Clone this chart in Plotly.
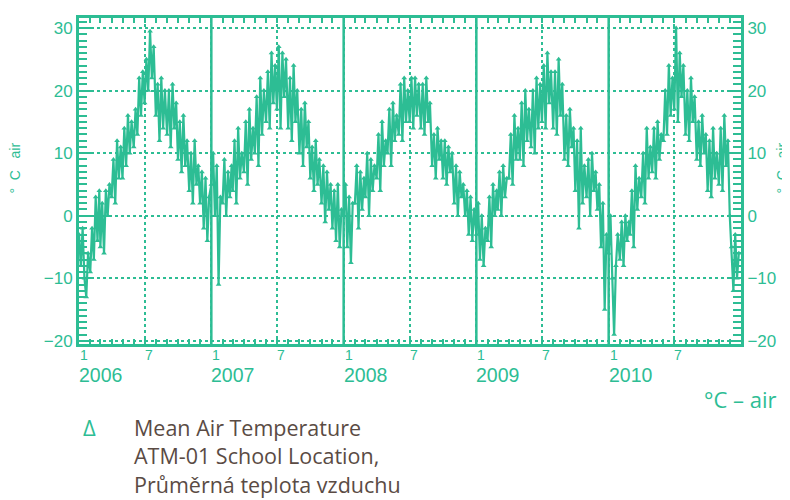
import plotly.graph_objects as go

TEAL = "#2dbd94"
TEXT = "#5a4b44"

years = [2006, 2007, 2008, 2009, 2010]
months = list(range(1, 13))
days = [1, 6, 11, 16, 21, 26]

t2006 = [-3, -8, -2, -10, -13, -6, -9, -2, -7, 3, -4, 4, -5, 2, -6, 4, 0, 5,
         3, 9, 2, 12, 6, 11, 6, 14, 8, 16, 10, 15, 11, 17, 13, 22, 16, 23,
         18, 25, 20, 29.5, 22, 27, 16, 21, 12, 22, 14, 20, 13, 20, 11, 21, 14, 18,
         9, 15, 7, 16, 8, 12, 4, 10, 2, 12, 5, 8, 2, 7, -2, 6, -4, 3]
t2007 = [5, 10, 0, 8, -11, 3, 2, 9, 0, 7, 3, 8, 4, 12, 2, 14, 6, 10,
         7, 15, 5, 17, 9, 14, 10, 19, 8, 22, 13, 20, 15, 23, 14, 26, 18, 24,
         17, 27, 14, 26, 19, 25, 14, 22, 12, 24, 15, 20, 10, 17, 8, 18, 11, 15,
         6, 11, 4, 12, 5, 9, 2, 8, -1, 7, 1, 5, -2, 4, -4, 5, -5, 1]
t2008 = [0, 5, -5, 3, -7.5, 2, 2, 8, -2, 7, 1, 6, 3, 10, 0, 9, 4, 8,
         6, 13, 4, 15, 8, 12, 10, 17, 8, 18, 12, 16, 13, 21, 12, 22, 15, 20,
         15, 22, 14, 22, 16, 21, 14, 21, 13, 22, 15, 18, 8, 13, 6, 14, 9, 12,
         6, 12, 5, 11, 7, 10, 2, 8, 0, 7, 3, 5, 0, 4, -3, 3, -4, 1]
t2009 = [-3, 2, -7, 0, -8, -2, -4, 3, -5, 5, 0, 4, 1, 7, 0, 8, 3, 6,
         6, 13, 5, 16, 9, 14, 9, 18, 8, 20, 12, 17, 11, 20, 10, 22, 14, 21,
         15, 24, 14, 26, 18, 23, 14, 23, 13, 25, 16, 21, 9, 16, 8, 17, 11, 14,
         4, 12, -2, 14, 2, 8, 3, 9, 0, 10, 4, 7, 1, 5, -5, 2, -15, -3]
t2010 = [-6, 0, -10, -19, -8, -3, -7, -1, -8, 0, -4, -1, -3, 4, -5, 8, 1, 6,
         3, 10, 2, 14, 6, 11, 7, 14, 6, 15, 9, 13, 12, 20, 13, 24, 16, 22,
         17, 30, 15, 26, 19, 24, 13, 20, 12, 22, 15, 19, 9, 15, 8, 16, 10, 13,
         4, 12, 3, 14, 6, 10, 5, 14, 4, 16, 8, 12, 0, -5, -12, -3, -10, -6]

temps = t2006 + t2007 + t2008 + t2009 + t2010
dates = [f"{y}-{m:02d}-{d:02d}" for y in years for m in months for d in days]

y_ticks = [-20, -10, 0, 10, 20, 30]
year_starts = [f"{y}-01-01" for y in years]
july_ticks = [f"{y}-07-01" for y in years]
year_labels = [str(y) for y in years]
y_range = [-20.5, 31.6]
x_range = ["2006-01-01", "2011-01-01"]

# screen geometry of the plot box (page has an 8px body margin)
OFF = 8
PL, PR, PT, PB = 79, 741, 15, 344
PW, PH = PR - PL, PB - PT


def px(x):
    return (x - PL) / PW


def py(y):
    return (PB - y) / PH


fig = go.Figure()
fig.add_trace(go.Scatter(
    x=dates, y=temps, mode="lines+markers",
    line=dict(color=TEAL, width=2.2),
    marker=dict(symbol="triangle-up", size=5, color=TEAL),
    showlegend=False, hoverinfo="skip"))
fig.add_trace(go.Scatter(x=[None], y=[None], yaxis="y2", showlegend=False))

lib = "Liberation Sans, Arial, sans-serif"
axis_font = dict(family=lib, size=17, color=TEAL)
yaxis_common = dict(
    range=y_range, tickmode="array", tickvals=y_ticks,
    ticks="inside", ticklen=13, tickwidth=2, tickcolor=TEAL,
    minor=dict(tickmode="linear", dtick=1, tick0=0, ticks="inside",
               ticklen=8, tickwidth=2, tickcolor=TEAL, showgrid=False),
    tickfont=axis_font, showline=True, linecolor=TEAL, linewidth=3,
    zeroline=False, fixedrange=True,
)
W, H = 790 - OFF, 500 - OFF
fig.update_layout(
    width=W, height=H, plot_bgcolor="white", paper_bgcolor="white",
    margin=dict(l=PL - OFF, r=W - (PR - OFF), t=PT - OFF, b=H - (PB - OFF)),
    xaxis=dict(
        type="date", range=x_range, tickmode="array",
        tickvals=year_starts + july_ticks, showticklabels=False,
        ticks="inside", ticklen=5, tickwidth=2, tickcolor=TEAL,
        minor=dict(tickmode="linear", dtick="M1", tick0="2006-01-01",
                   ticks="inside", ticklen=5, tickwidth=2, tickcolor=TEAL,
                   showgrid=False),
        showgrid=True, gridcolor=TEAL, gridwidth=2, griddash="dot",
        showline=True, linecolor=TEAL, linewidth=3, mirror="allticks",
        zeroline=False, fixedrange=True,
    ),
    yaxis=dict(**yaxis_common, side="left", showgrid=True, gridcolor=TEAL,
               gridwidth=2, griddash="dot"),
    yaxis2=dict(**yaxis_common, side="right", overlaying="y", showgrid=False),
)

for xs in year_starts[1:]:
    fig.add_shape(type="line", xref="x", yref="paper", x0=xs, x1=xs, y0=0, y1=1,
                  line=dict(color=TEAL, width=2.5))

small_font = dict(family=lib, size=14, color=TEAL)
year_font = dict(family=lib, size=19.5, color=TEAL)
for xs, jl, yl in zip(year_starts, july_ticks, year_labels):
    fig.add_annotation(x=xs, y=py(355), xref="x", yref="paper", text="1",
                       showarrow=False, font=small_font, xshift=5,
                       xanchor="center", yanchor="middle", borderpad=0)
    fig.add_annotation(x=jl, y=py(355), xref="x", yref="paper", text="7",
                       showarrow=False, font=small_font, xshift=4,
                       xanchor="center", yanchor="middle", borderpad=0)
    fig.add_annotation(x=xs, y=py(375), xref="x", yref="paper", text=yl,
                       showarrow=False, font=year_font, xanchor="left",
                       yanchor="middle", xshift=-1, borderpad=0)

side_font = dict(family=lib, size=14, color=TEAL)
for sx in (15, 782):
    fig.add_annotation(x=px(sx), y=py(167), xref="paper", yref="paper",
                       text="°  C   air", showarrow=False, textangle=-90,
                       font=side_font, xanchor="center", yanchor="middle")

sans = "Open Sans, Noto Sans, sans-serif"
fig.add_annotation(x=px(778), y=py(400), xref="paper", yref="paper",
                   text="°C – air", showarrow=False, xanchor="right",
                   yanchor="middle", font=dict(family=sans, size=22, color=TEAL))
fig.add_annotation(x=px(89), y=py(428), xref="paper", yref="paper",
                   text="Δ", showarrow=False, xanchor="center", yanchor="middle",
                   font=dict(family=sans, size=22, color=TEAL))
for i, line in enumerate(["Mean Air Temperature", "ATM-01 School Location,",
                          "Průměrná teplota vzduchu"]):
    fig.add_annotation(x=px(133), y=py(428 + 29 * i), xref="paper", yref="paper",
                       text=line, showarrow=False, xanchor="left",
                       yanchor="middle", borderpad=0,
                       font=dict(family=sans, size=21.5, color=TEXT))

fig.write_html("out.html")
